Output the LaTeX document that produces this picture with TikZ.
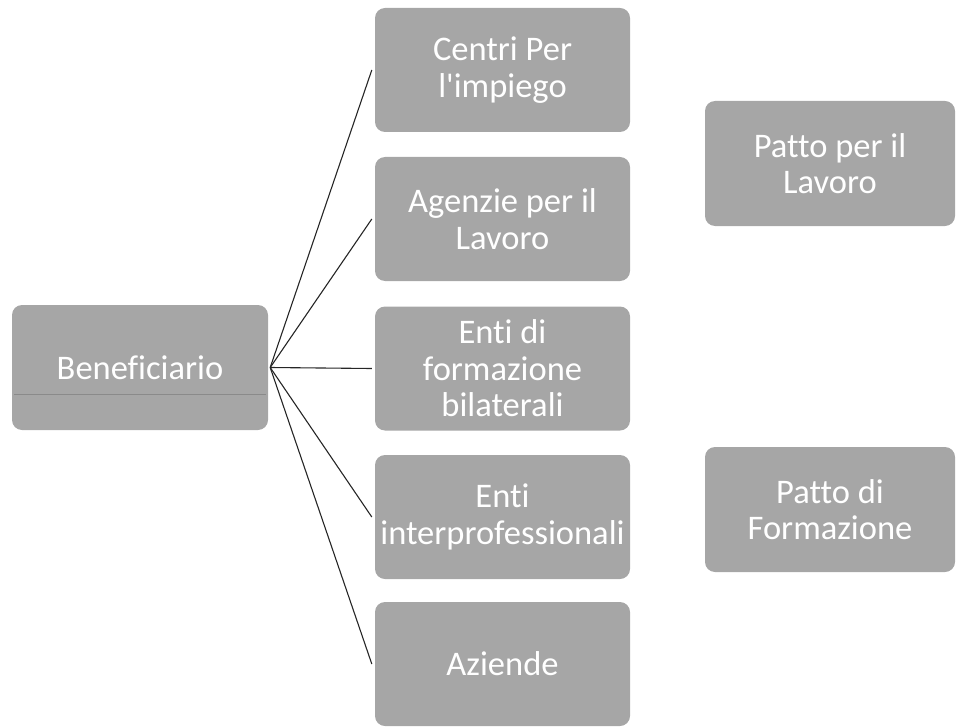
\documentclass[tikz,border=0pt]{standalone}
\usepackage{fontspec}
\setmainfont[Ligatures=NoCommon]{Carlito}
\definecolor{boxgray}{RGB}{166,166,166}
\definecolor{scanline}{RGB}{120,120,120}
\tikzset{
  gbox/.style={rectangle, rounded corners=10pt, fill=boxgray, draw=none,
    text=white, align=center, inner sep=0pt,
    font=\fontsize{34.5}{36.5}\selectfont},
  lbox/.style={gbox, minimum width=256pt, minimum height=125pt},
  cbox/.style={gbox, minimum width=255pt, minimum height=124pt},
  pbox/.style={gbox, minimum width=250pt, minimum height=125pt},
  conn/.style={draw=black!85, line width=1.1pt}
}
\begin{document}
\begin{tikzpicture}[x=1pt,y=-1pt]
\useasboundingbox (0,0) rectangle (957,727);
\node[lbox] (ben) at (140,367.5) {Beneficiario};
\draw[scanline, line width=0.8pt, opacity=0.6] (14,394) -- (266,394);
\node[cbox] (c1) at (502.5,70) {Centri Per\\l\textquotesingle impiego};
\node[cbox] (c2) at (502.5,219) {Agenzie per il\\Lavoro};
\node[cbox] (c3) at (502.5,368.5) {Enti di\\formazione\\bilaterali};
\node[cbox] (c4) at (502.5,517) {Enti\\interprofessionali};
\node[cbox] (c5) at (502.5,664) {Aziende};
\node[pbox] (p1) at (830,163.5) {Patto per il\\Lavoro};
\node[pbox] (p2) at (830,509.5) {Patto di\\Formazione};
\coordinate (hub) at ([xshift=2pt]ben.east);
\foreach \n in {c1,c2,c3,c4,c5}{
  \draw[conn] (hub) -- ([xshift=-3pt]\n.west);
}
\end{tikzpicture}
\end{document}
